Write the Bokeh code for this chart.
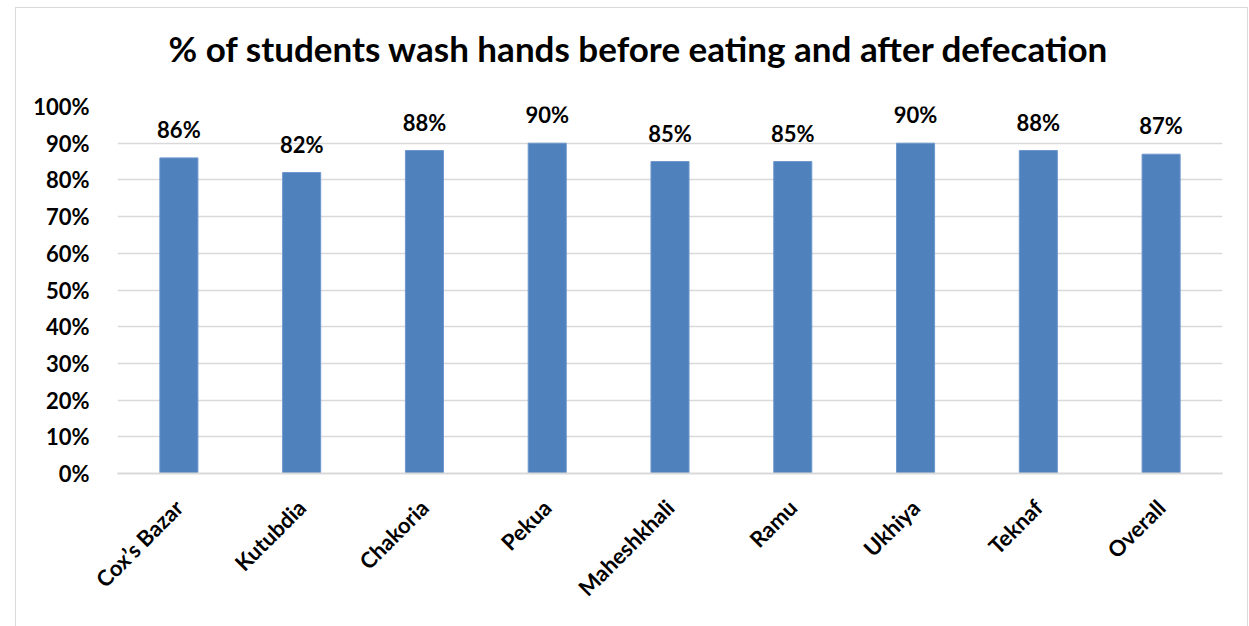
from bokeh.plotting import figure
from bokeh.models import ColumnDataSource, LabelSet, Range1d, FactorRange, NumeralTickFormatter, FixedTicker, Title
from bokeh.core.properties import value
from bokeh.embed import file_html
from bokeh.resources import INLINE

categories = ["Cox\u2019s Bazar", "Kutubdia", "Chakoria", "Pekua", "Maheshkhali", "Ramu", "Ukhiya", "Teknaf", "Overall"]
values = [0.86, 0.82, 0.88, 0.90, 0.85, 0.85, 0.90, 0.88, 0.87]
labels = ["86%", "82%", "88%", "90%", "85%", "85%", "90%", "88%", "87%"]
y_ticks = [0, 0.1, 0.2, 0.3, 0.4, 0.5, 0.6, 0.7, 0.8, 0.9, 1.0]
title_text = "% of students wash hands before eating and after defecation"

FONT = "Lato"
src = ColumnDataSource(dict(cat=categories, val=values, lab=labels))

p = figure(x_range=FactorRange(*categories, range_padding=0), y_range=Range1d(0, 1.0),
           width=1233, height=619, output_backend="svg", toolbar_location=None,
           min_border_left=101, min_border_right=27, min_border_top=98, min_border_bottom=154,
           margin=(7, 0, 0, 15), title=title_text)
p.styles = {"border-top": "1px solid #d9d9d9", "border-left": "1px solid #d9d9d9",
            "border-right": "1px solid #d9d9d9"}
p.outline_line_color = None
p.background_fill_color = "white"

p.title.align = "left"
p.title.text_font = FONT
p.title.text_font_style = "bold"
p.title.text_font_size = "35px"
p.title.text_color = "black"
p.title.offset = 51

# blank spacer between title and plot area
p.add_layout(Title(text=" ", text_font_size="19px"), "above")

p.vbar(x="cat", top="val", width=0.31, source=src, fill_color="#4f81bd", line_color="#6d97cc", line_width=1)

p.yaxis.ticker = FixedTicker(ticks=y_ticks)
p.yaxis.formatter = NumeralTickFormatter(format="0%")
p.yaxis.axis_line_color = None
p.yaxis.major_tick_line_color = None
p.yaxis.minor_tick_line_color = None
p.yaxis.major_label_text_font = FONT
p.yaxis.major_label_text_font_style = "bold"
p.yaxis.major_label_text_font_size = "22px"
p.yaxis.major_label_text_color = "black"
p.yaxis.major_label_standoff = 22

p.xaxis.axis_line_color = "#d9d9d9"
p.xaxis.axis_line_width = 2
p.xaxis.major_tick_line_color = None
p.xaxis.minor_tick_line_color = None
p.xaxis.major_label_orientation = 0.785398
p.xaxis.major_label_text_font = FONT
p.xaxis.major_label_text_font_style = "bold"
p.xaxis.major_label_text_font_size = "22px"
p.xaxis.major_label_text_color = "black"
p.xaxis.major_label_standoff = 24

p.xgrid.grid_line_color = None
p.ygrid.grid_line_color = "#d9d9d9"
p.ygrid.grid_line_width = 1.5

p.add_layout(LabelSet(x="cat", y="val", text="lab", source=src, text_align="center",
                      text_baseline="bottom", y_offset=15, text_font=value(FONT),
                      text_font_style="bold", text_font_size="22px", text_color="black"))

open("out.html", "w").write(file_html(p, INLINE))
